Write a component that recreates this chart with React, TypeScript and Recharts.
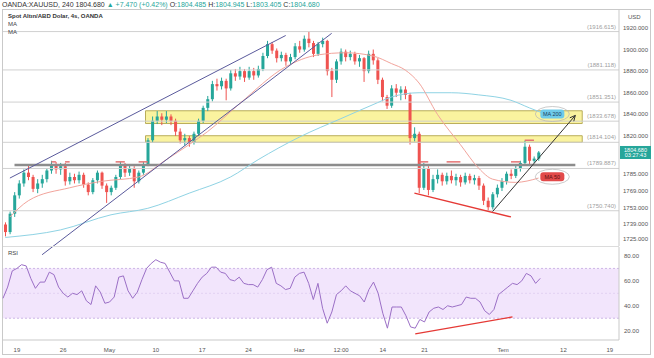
import React from "react";
import {
  ComposedChart,
  Bar,
  Line,
  XAxis,
  YAxis,
  ReferenceLine,
  ReferenceArea,
  ReferenceDot,
} from "recharts";

// 12h candles (Apr 15 .. Jul 2)
const opens = [
  1738, 1731, 1748, 1765, 1776, 1786, 1782, 1771, 1776, 1780,
  1788, 1794, 1789, 1792, 1778, 1782, 1779, 1784, 1775, 1768,
  1779, 1786, 1774, 1768, 1772, 1782, 1793, 1786, 1790, 1778,
  1786, 1794, 1816, 1834, 1838, 1835, 1838, 1834, 1824, 1816,
  1818, 1814, 1822, 1834, 1846, 1854, 1868, 1866, 1871, 1864,
  1878, 1875, 1880, 1874, 1880, 1876, 1882, 1894, 1905, 1899,
  1892, 1895, 1889, 1893, 1903, 1900, 1910, 1906, 1896, 1905,
  1908, 1880, 1872, 1889, 1898, 1893, 1896, 1889, 1892, 1880,
  1896, 1890, 1872, 1856, 1848, 1864, 1860, 1863, 1858, 1818,
  1822, 1772, 1790, 1770, 1780, 1784, 1778, 1783, 1779, 1782,
  1777, 1783, 1779, 1781, 1774, 1760, 1754, 1766, 1772, 1778,
  1785, 1783, 1790, 1795, 1810, 1797, 1799,
];
const highs = [
  1740, 1750, 1768, 1779, 1789, 1794, 1784, 1780, 1784, 1790,
  1797, 1796, 1795, 1795, 1786, 1785, 1787, 1786, 1777, 1781,
  1788, 1787, 1776, 1774, 1784, 1796, 1795, 1794, 1792, 1788,
  1796, 1818, 1838, 1843, 1841, 1843, 1840, 1836, 1827, 1822,
  1820, 1824, 1836, 1848, 1857, 1871, 1873, 1874, 1873, 1881,
  1882, 1884, 1882, 1884, 1883, 1885, 1897, 1908, 1907, 1901,
  1898, 1897, 1896, 1906, 1908, 1913, 1916.6, 1908, 1907, 1911,
  1909, 1883, 1891, 1901, 1900, 1899, 1898, 1895, 1893, 1899,
  1900, 1892, 1874, 1858, 1867, 1868, 1866, 1866, 1860, 1828,
  1824, 1795, 1792, 1784, 1789, 1786, 1786, 1788, 1785, 1784,
  1786, 1785, 1784, 1783, 1776, 1763, 1768, 1775, 1781, 1787,
  1789, 1793, 1797, 1815.6, 1812, 1801, 1806,
];
const lows = [
  1727, 1729, 1745, 1762, 1773, 1779, 1768, 1767, 1772, 1777,
  1785, 1785, 1784, 1774, 1775, 1776, 1776, 1772, 1765, 1766,
  1776, 1771, 1758, 1765, 1770, 1780, 1782, 1783, 1772, 1776,
  1784, 1792, 1814, 1831, 1830, 1832, 1830, 1820, 1813, 1811,
  1810, 1812, 1820, 1832, 1843, 1852, 1862, 1863, 1853, 1862,
  1871, 1872, 1870, 1872, 1872, 1874, 1880, 1892, 1896, 1888,
  1889, 1885, 1886, 1891, 1897, 1898, 1902, 1893, 1894, 1902,
  1876, 1856, 1869, 1886, 1889, 1890, 1886, 1884, 1870, 1878,
  1886, 1868, 1852, 1845, 1846, 1856, 1853, 1854, 1812, 1815,
  1767, 1770, 1765, 1768, 1776, 1774, 1775, 1776, 1774, 1773,
  1775, 1776, 1775, 1770, 1756, 1751, 1752, 1763, 1769, 1775,
  1780, 1781, 1787, 1793, 1794, 1795, 1797,
];
const closes = [
  1731, 1748, 1765, 1776, 1786, 1782, 1771, 1776, 1780, 1788,
  1794, 1789, 1792, 1778, 1782, 1779, 1784, 1775, 1768, 1779,
  1786, 1774, 1768, 1772, 1782, 1793, 1786, 1790, 1778, 1786,
  1794, 1816, 1834, 1838, 1835, 1838, 1834, 1824, 1816, 1818,
  1814, 1822, 1834, 1846, 1854, 1868, 1866, 1871, 1864, 1878,
  1875, 1880, 1874, 1880, 1876, 1882, 1894, 1905, 1899, 1892,
  1895, 1889, 1893, 1903, 1900, 1910, 1906, 1896, 1905, 1908,
  1880, 1872, 1889, 1898, 1893, 1896, 1889, 1892, 1880, 1896,
  1890, 1872, 1856, 1848, 1864, 1860, 1863, 1858, 1818, 1822,
  1772, 1790, 1770, 1780, 1784, 1778, 1783, 1779, 1782, 1777,
  1783, 1779, 1781, 1774, 1760, 1754, 1766, 1772, 1778, 1785,
  1783, 1790, 1795, 1810, 1797, 1799, 1804.68,
];
const rsiValues = [
  46, 55, 68, 70, 73, 72, 62, 54, 59, 59,
  67, 65, 55, 50, 47, 50, 49, 52, 44, 41,
  56, 51, 42, 43, 47, 63, 64, 52, 46, 51,
  61, 70, 74, 77, 75, 74, 67, 60, 60, 46,
  46, 52, 58, 63, 66, 71, 71, 67, 66, 61,
  60, 63, 58, 57, 57, 55, 61, 69, 71, 58,
  56, 53, 54, 63, 66, 67, 58, 45, 58, 38,
  26, 35, 49, 52, 56, 52, 50, 48, 43, 53,
  59, 50, 34, 22, 39, 39, 39, 32, 23, 22,
  29, 27, 35, 38, 39, 37, 40, 39, 40, 41,
  47, 46, 46, 43, 36, 33, 37, 49, 52, 55,
  58, 57, 60, 66, 64, 58, 62,
];

// moving averages, read at a few points along each curve [slot, price]
const ma50Points = [
  [1, 1745], [5, 1760], [14, 1772], [21, 1778], [29, 1782], [35, 1798],
  [40, 1812], [44, 1824], [51, 1850], [61, 1884], [68, 1895], [74, 1897],
  [80, 1894], [84, 1887], [87, 1881], [90, 1869], [94, 1840], [99, 1812],
  [103, 1790], [106, 1780], [111, 1777], [116, 1781],
];
const ma200Points = [
  [0, 1726], [12, 1733], [23, 1747], [31, 1753], [40, 1767], [49, 1782],
  [55, 1798], [64, 1819], [73, 1836], [80, 1849], [84, 1856], [90, 1860],
  [97, 1860], [103, 1858], [110, 1853], [114, 1846], [117, 1841],
];

const levels = [1916.615, 1881.118, 1851.351, 1833.678, 1814.104, 1789.887, 1750.74];
const bands = [
  [1831.5, 1843.3],
  [1814.1, 1820.2],
];
const priceTicks = [1920, 1900, 1880, 1860, 1840, 1820, 1785, 1769, 1753, 1739, 1725];
const rsiTicks = [80, 60, 40, 20];
const timeTicks = [3, 13, 23, 33, 43, 53, 64, 73, 82, 91, 108, 121, 131];
const timeLabels = ["19", "26", "May", "10", "17", "24", "Haz", "12:00", "14", "21", "Tem", "12", "19"];

// drawings: [[slot, value], [slot, value]]
const upperChannel = [[1, 1781], [61, 1913]];
const lowerChannel = [[8, 1710], [71, 1915]];
const supportLine = [[2, 1793], [124, 1793]];
const lowsLine = [[89, 1767], [110, 1745]];
const arrowLine = [[106, 1750], [124, 1839]];
const rsiLowsLine = [[89, 17.5], [110, 31]];
const touchMarks = [
  [10, 11, 1796], [13, 14, 1796], [24, 26, 1796], [29, 31, 1796],
  [90, 92, 1796], [96, 99, 1796], [110, 112, 1796], [113, 115, 1816],
];

const SLOTS = 134;
const UP = "#26a69a";
const DOWN = "#ef5350";

const ma50Map = new Map(ma50Points.map((p) => [p[0], p[1]]));
const ma200Map = new Map(ma200Points.map((p) => [p[0], p[1]]));

const rows = Array.from({ length: SLOTS }, (_, i) => ({
  i,
  range: i < closes.length ? [lows[i], highs[i]] : null,
  o: opens[i],
  h: highs[i],
  l: lows[i],
  c: closes[i],
  ma50: ma50Map.has(i) ? ma50Map.get(i) : null,
  ma200: ma200Map.has(i) ? ma200Map.get(i) : null,
  rsi: i < rsiValues.length ? rsiValues[i] : null,
}));

const seg = (s: number[][]) => s.map((p) => ({ x: p[0], y: p[1] }));

const Candle = (props: any) => {
  const { x, y, width, height, payload } = props;
  if (!payload || payload.range == null || payload.c == null) return null;
  const { o, h, l, c } = payload;
  const top = Math.min(y, y + height);
  const hh = Math.abs(height);
  const span = h - l || 1;
  const py = (p: number) => top + ((h - p) / span) * hh;
  const color = c >= o ? UP : DOWN;
  const bTop = py(Math.max(o, c));
  const bBot = py(Math.min(o, c));
  const cx = x + width / 2;
  return (
    <g>
      <line x1={cx} x2={cx} y1={top} y2={top + hh} stroke={color} strokeWidth={1} />
      <rect x={x} y={bTop} width={width} height={Math.max(1, bBot - bTop)} fill={color} />
    </g>
  );
};

const ArrowShape = (p: any) => {
  const { x1, y1, x2, y2 } = p;
  const ang = Math.atan2(y2 - y1, x2 - x1);
  const len = 6;
  const a1 = ang + Math.PI - 0.45;
  const a2 = ang + Math.PI + 0.45;
  return (
    <g>
      <line x1={x1} y1={y1} x2={x2} y2={y2} stroke="#333" strokeWidth={1} />
      <path
        d={`M${x2},${y2} L${x2 + len * Math.cos(a1)},${y2 + len * Math.sin(a1)} M${x2},${y2} L${x2 + len * Math.cos(a2)},${y2 + len * Math.sin(a2)}`}
        stroke="#333"
        strokeWidth={1}
        fill="none"
      />
    </g>
  );
};

const PriceTag = (props: any) => {
  const vb = props.viewBox;
  if (!vb) return null;
  const x = vb.x + vb.width;
  const y = vb.y;
  return (
    <g>
      <rect x={x + 1} y={y - 6.5} width={31} height={13} fill={UP} />
      <text x={x + 16.5} y={y - 0.8} fontSize={5.5} fill="#fff" textAnchor="middle">1804.680</text>
      <text x={x + 16.5} y={y + 5} fontSize={5.5} fill="#fff" textAnchor="middle">03:27:43</text>
    </g>
  );
};

const MaTag = (props: any) => {
  const { cx, cy, text, fill, color } = props;
  if (cx == null || cy == null) return null;
  return (
    <g>
      <ellipse cx={cx} cy={cy} rx={17} ry={7.5} fill="none" stroke="#b5b5b5" strokeWidth={0.7} />
      <rect x={cx - 12} y={cy - 4.5} width={24} height={9} rx={3} fill={fill} />
      <text x={cx} y={cy + 2} textAnchor="middle" fontSize={5.5} fill={color}>{text}</text>
    </g>
  );
};

const abs = (left: number, top: number, extra: React.CSSProperties = {}): React.CSSProperties => ({
  position: "absolute",
  left,
  top,
  whiteSpace: "nowrap",
  ...extra,
});

export default function App() {
  const green = { color: UP };
  return (
    <div
      style={{
        position: "relative",
        width: 654,
        height: 358,
        background: "#fff",
        fontFamily: "'Liberation Sans', Arial, sans-serif",
        overflow: "hidden",
      }}
    >
      <style>{"body{margin:0} .recharts-surface{overflow:visible}"}</style>

      <div style={abs(2, 0, { fontSize: 7, lineHeight: "9px", color: "#333" })}>
        OANDA:XAUUSD, 240 1804.680 <span style={green}>▲ +7.470 (+0.42%)</span> O:
        <span style={green}>1804.485</span> H:<span style={green}>1804.945</span> L:
        <span style={green}>1803.405</span> C:<span style={green}>1804.680</span>
      </div>

      <div
        style={abs(2, 9, {
          width: 649,
          height: 346,
          border: "1px solid #c9c9c9",
          boxSizing: "border-box",
        })}
      />

      <div style={abs(3, 10)}>
        <ComposedChart width={648} height={236} data={rows} margin={{ top: 0, right: 0, bottom: 0, left: 0 }}>
          <XAxis dataKey="i" type="category" hide />
          <YAxis
            orientation="right"
            type="number"
            width={32}
            domain={[1718.1, 1936.6]}
            allowDataOverflow
            ticks={priceTicks}
            interval={0}
            tickFormatter={(v: number) => v.toFixed(3)}
            tick={{ fontSize: 6, fill: "#555" }}
            tickLine={false}
            tickSize={3}
            tickMargin={1}
            axisLine={{ stroke: "#c9c9c9" }}
          />
          {bands.map((b, k) => (
            <ReferenceArea
              key={`band-${k}`}
              x1={31}
              x2={125}
              y1={b[0]}
              y2={b[1]}
              fill="#faf29a"
              fillOpacity={0.95}
              stroke="#b9ad5a"
              strokeWidth={1}
            />
          ))}
          {levels.map((v) => (
            <ReferenceLine
              key={`lvl-${v}`}
              y={v}
              stroke="#d0d0d0"
              strokeWidth={1}
              label={{
                value: `(${v.toFixed(3)})`,
                position: "insideBottomRight",
                offset: 3,
                fill: "#a0a0a0",
                fontSize: 6,
              }}
            />
          ))}
          <ReferenceLine segment={seg(supportLine)} stroke="#8c8c8c" strokeWidth={2.5} />
          <Line
            dataKey="ma200"
            type="monotone"
            connectNulls
            dot={false}
            stroke="#8fd3e4"
            strokeWidth={1}
            isAnimationActive={false}
          />
          <Line
            dataKey="ma50"
            type="monotone"
            connectNulls
            dot={false}
            stroke="#f2a49c"
            strokeWidth={1}
            isAnimationActive={false}
          />
          <Bar dataKey="range" barSize={3} shape={Candle} isAnimationActive={false} />
          {touchMarks.map((m, k) => (
            <ReferenceLine
              key={`mark-${k}`}
              segment={[{ x: m[0], y: m[2] }, { x: m[1], y: m[2] }]}
              stroke="#e57373"
              strokeWidth={1.5}
            />
          ))}
          <ReferenceLine segment={seg(upperChannel)} stroke="#5a5a9c" strokeWidth={1} />
          <ReferenceLine segment={seg(lowerChannel)} stroke="#5a5a9c" strokeWidth={1} ifOverflow="visible" />
          <ReferenceLine segment={seg(lowsLine)} stroke="#e53935" strokeWidth={1.3} />
          <ReferenceLine segment={seg(arrowLine)} shape={ArrowShape} />
          <ReferenceLine y={1804.68} stroke="none" label={<PriceTag />} />
          <ReferenceDot
            x={119}
            y={1840.3}
            shape={(p: any) => <MaTag {...p} text="MA 200" fill="#6fcbea" color="#1d3f5c" />}
          />
          <ReferenceDot
            x={119}
            y={1782.2}
            shape={(p: any) => <MaTag {...p} text="MA 50" fill="#e24a4a" color="#5c1212" />}
          />
        </ComposedChart>
      </div>

      <div style={abs(3, 246, { width: 616, height: 1, background: "#dcdcdc" })} />

      <div style={abs(3, 246)}>
        <ComposedChart width={648} height={109} data={rows} margin={{ top: 1, right: 0, bottom: 0, left: 0 }}>
          <XAxis
            dataKey="i"
            type="category"
            height={15}
            ticks={timeTicks}
            interval={0}
            tickFormatter={(v: number) => timeLabels[timeTicks.indexOf(v)] ?? ""}
            tick={{ fontSize: 6, fill: "#555" }}
            tickLine={false}
            axisLine={{ stroke: "#c9c9c9" }}
          />
          <YAxis
            orientation="right"
            type="number"
            width={32}
            domain={[12.5, 87.2]}
            allowDataOverflow
            ticks={rsiTicks}
            interval={0}
            tickFormatter={(v: number) => v.toFixed(2)}
            tick={{ fontSize: 6, fill: "#555" }}
            tickLine={false}
            tickSize={3}
            tickMargin={2}
            axisLine={{ stroke: "#c9c9c9" }}
          />
          <ReferenceArea y1={30} y2={70} fill="#eddcfb" fillOpacity={0.75} stroke="none" />
          <ReferenceLine y={70} stroke="#cdb6e6" strokeDasharray="2 2" />
          <ReferenceLine y={50} stroke="#e2d2f2" strokeDasharray="2 2" />
          <ReferenceLine y={30} stroke="#cdb6e6" strokeDasharray="2 2" />
          <Line
            dataKey="rsi"
            type="linear"
            dot={false}
            stroke="#9b6fc6"
            strokeWidth={1}
            isAnimationActive={false}
          />
          <ReferenceLine segment={seg(rsiLowsLine)} stroke="#e53935" strokeWidth={1.3} />
        </ComposedChart>
      </div>

      <div style={abs(8, 13, { fontSize: 6, fontWeight: "bold", color: "#333" })}>
        Spot Altın/ABD Dolar, 4s, OANDA
      </div>
      <div style={abs(8, 21, { fontSize: 6, color: "#444" })}>MA</div>
      <div style={abs(8, 29, { fontSize: 6, color: "#444" })}>MA</div>
      <div style={abs(628, 14, { fontSize: 6, color: "#555" })}>USD</div>
      <div style={abs(8, 250, { fontSize: 6, color: "#444" })}>RSI</div>
    </div>
  );
}
